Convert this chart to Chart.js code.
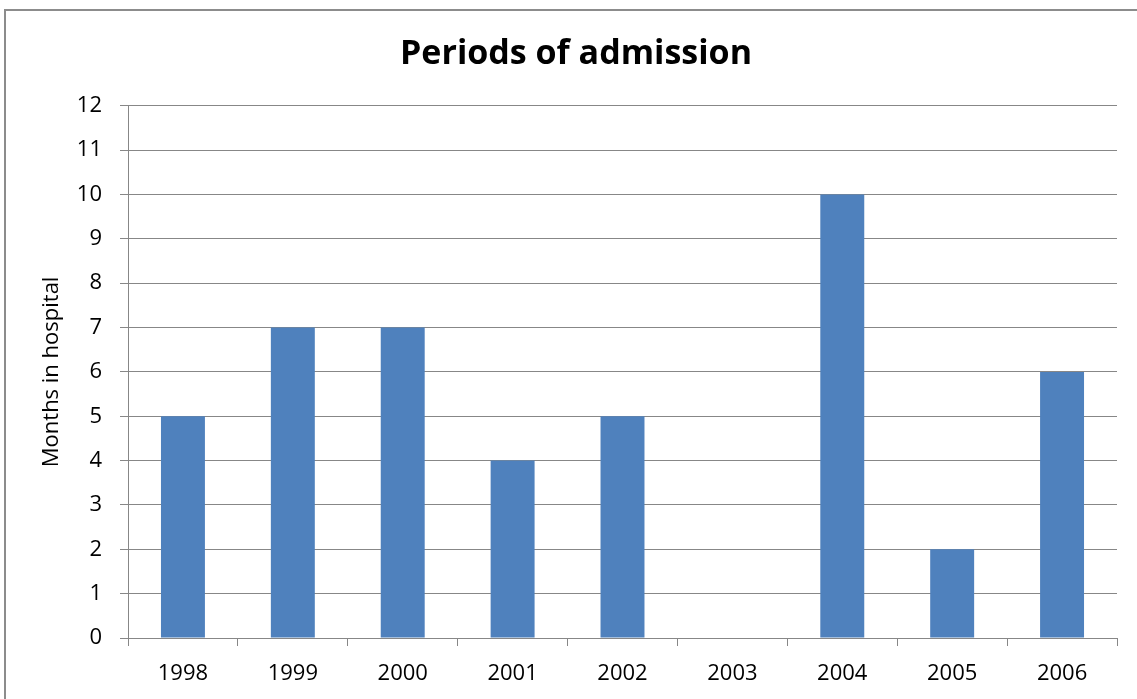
<!DOCTYPE html>
<html>
<head>
<meta charset="utf-8">
<script src="https://cdn.jsdelivr.net/npm/chart.js@4"></script>
<style>
  html, body { margin: 0; padding: 0; background: #ffffff; }
  canvas { display: block; }
</style>
</head>
<body>
<canvas id="c" width="1137" height="699"></canvas>
<script>
const categories = ['1998', '1999', '2000', '2001', '2002', '2003', '2004', '2005', '2006'];
const monthsInHospital = [5, 7, 7, 4, 5, 0, 10, 2, 6];
const chartTitle = 'Periods of admission';
const yAxisTitle = 'Months in hospital';
const yMin = 0, yMax = 12, yStep = 1;

const gridColor = '#878787';
const fontFamily = '"Open Sans", "DejaVu Sans", sans-serif';

const outerBorder = {
  id: 'outerBorder',
  beforeDraw(chart) {
    const ctx = chart.ctx;
    ctx.save();
    ctx.fillStyle = '#ffffff';
    ctx.fillRect(0, 0, chart.width, chart.height);
    ctx.strokeStyle = '#8c8c8c';
    ctx.lineWidth = 2;
    ctx.strokeRect(5, 10, chart.width + 20, chart.height + 20);
    ctx.restore();
  }
};

new Chart(document.getElementById('c'), {
  type: 'bar',
  data: {
    labels: categories,
    datasets: [{
      label: yAxisTitle,
      data: monthsInHospital,
      backgroundColor: '#4F81BD',
      borderWidth: 0,
      categoryPercentage: 1.0,
      barPercentage: 0.4
    }]
  },
  options: {
    responsive: false,
    animation: false,
    layout: { padding: { left: 35, right: 20, top: 0, bottom: 0 } },
    plugins: {
      legend: { display: false },
      tooltip: { enabled: false },
      title: {
        display: true,
        text: chartTitle,
        color: '#000000',
        font: { family: fontFamily, size: 34, weight: 'bold', lineHeight: 1.2 },
        padding: { top: 34, bottom: 31 }
      }
    },
    scales: {
      x: {
        grid: {
          display: true,
          drawOnChartArea: false,
          offset: true,
          tickLength: 8,
          color: gridColor,
          lineWidth: 1
        },
        border: { display: true, color: gridColor, width: 1 },
        ticks: {
          color: '#000000',
          padding: 15,
          font: { family: fontFamily, size: 22 },
          maxRotation: 0
        },
        afterFit(scale) { scale.height = 61; }
      },
      y: {
        min: yMin,
        max: yMax,
        grid: {
          color: gridColor,
          lineWidth: 1,
          tickLength: 8
        },
        border: { display: true, color: gridColor, width: 1 },
        ticks: {
          stepSize: yStep,
          color: '#000000',
          padding: 18,
          font: { family: fontFamily, size: 22 }
        },
        title: {
          display: true,
          text: yAxisTitle,
          color: '#000000',
          font: { family: fontFamily, size: 22, lineHeight: 1.2 },
          padding: { top: 4, bottom: 0 }
        },
        afterFit(scale) { scale.width = 93; }
      }
    }
  },
  plugins: [outerBorder]
});
</script>
</body>
</html>
